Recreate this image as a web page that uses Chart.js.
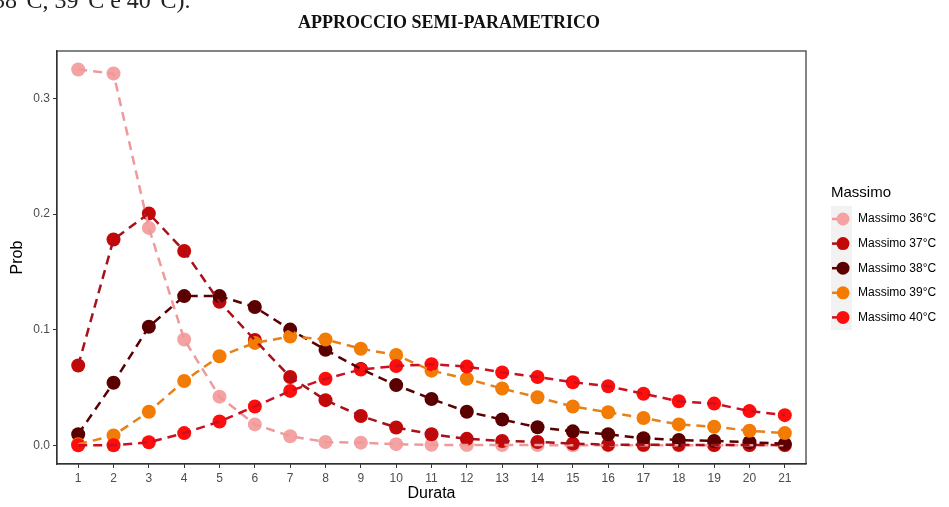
<!DOCTYPE html>
<html lang="it">
<head>
<meta charset="UTF-8">
<title>Approccio semi-parametrico</title>
<script src="https://cdn.jsdelivr.net/npm/chart.js"></script>
<style>
  body { margin: 0; background: #fff; }
  #wrap { position: relative; width: 949px; height: 507px; overflow: hidden; }
  #cut { position: absolute; left: -15px; top: -12px; font: 24px 'Liberation Serif', serif; line-height: 1; color: #222; white-space: nowrap; }
  #title { position: absolute; left: 0; width: 898px; top: 12px; text-align: center; font: bold 18px 'Liberation Serif', serif; color: #111; }
  canvas { position: absolute; left: 0; top: 0; }
</style>
</head>
<body>
<div id="wrap">
  <canvas id="chart" width="949" height="507"></canvas>
  <div id="cut">(38°C, 39°C e 40°C).</div>
  <div id="title">APPROCCIO SEMI-PARAMETRICO</div>
</div>
<script>
const durata = [1, 2, 3, 4, 5, 6, 7, 8, 9, 10, 11, 12, 13, 14, 15, 16, 17, 18, 19, 20, 21];
const yTicks = [0, 0.1, 0.2, 0.3];
const serie = ['Massimo 36°C', 'Massimo 37°C', 'Massimo 38°C', 'Massimo 39°C', 'Massimo 40°C'];

const prob36 = [0.325, 0.3215, 0.188, 0.0915, 0.042, 0.018, 0.0078, 0.0028, 0.0022, 0.0009, 0.0003, 0.0002, 0.0001, 0.0001, 0, 0, 0, 0, 0, 0, 0];
const prob37 = [0.069, 0.178, 0.2005, 0.168, 0.124, 0.091, 0.059, 0.039, 0.0253, 0.0153, 0.0095, 0.0055, 0.0037, 0.0028, 0.0014, 0.0005, 0.0004, 0.0003, 0.0002, 0.0001, 0.0001];
const prob38 = [0.0095, 0.054, 0.1025, 0.129, 0.129, 0.1195, 0.1, 0.0825, 0.066, 0.052, 0.04, 0.029, 0.0222, 0.0155, 0.012, 0.0095, 0.006, 0.0045, 0.0037, 0.0026, 0.0012];
const prob39 = [0.0008, 0.0085, 0.029, 0.0555, 0.077, 0.0885, 0.094, 0.0915, 0.0835, 0.078, 0.0645, 0.0575, 0.049, 0.0415, 0.0335, 0.0285, 0.0235, 0.018, 0.016, 0.0125, 0.0105];
const prob40 = [0, 0, 0.0025, 0.0105, 0.0205, 0.0335, 0.047, 0.0575, 0.0655, 0.0685, 0.07, 0.068, 0.063, 0.059, 0.0545, 0.051, 0.0445, 0.038, 0.036, 0.0295, 0.026];

const pointColors = ['#F4A2A2', '#C40808', '#5A0000', '#F57A00', '#FF0C0C'];
const lineColors = ['#EE9A9A', '#A8101C', '#5A0000', '#E8801A', '#CC1020'];
const allProb = [prob36, prob37, prob38, prob39, prob40];
const font = 'Liberation Sans';

// lines drawn above all points, later series on top
const lineSets = allProb.map((vals, i) => ({
  label: serie[i],
  data: vals.map((v, j) => ({ x: durata[j], y: v })),
  borderColor: lineColors[i],
  borderWidth: 2.5,
  borderDash: [9, 6],
  pointRadius: 0,
  fill: false,
  order: allProb.length - i
}));
const pointSets = allProb.map((vals, i) => ({
  label: serie[i] + ' punti',
  data: vals.map((v, j) => ({ x: durata[j], y: v })),
  showLine: false,
  pointRadius: 7,
  pointBorderWidth: 0,
  pointBackgroundColor: pointColors[i],
  backgroundColor: pointColors[i],
  order: 2 * allProb.length - i
}));

const frameAndLegend = {
  id: 'frameAndLegend',
  afterDraw(chart) {
    const ctx = chart.ctx;
    const a = chart.chartArea;
    ctx.save();
    ctx.strokeStyle = '#333';
    ctx.lineWidth = 1.2;
    ctx.strokeRect(a.left, a.top, a.right - a.left, a.bottom - a.top);

    ctx.fillStyle = '#000';
    ctx.font = '15px "' + font + '"';
    ctx.textBaseline = 'middle';
    ctx.fillText('Massimo', 831, 193);
    ctx.fillStyle = '#F2F2F2';
    ctx.fillRect(831, 206, 21, 124);
    serie.forEach((name, i) => {
      const y = 219 + i * 24.6;
      ctx.strokeStyle = lineColors[i];
      ctx.lineWidth = 2.5;
      ctx.beginPath();
      ctx.moveTo(832, y);
      ctx.lineTo(843, y);
      ctx.stroke();
      ctx.fillStyle = pointColors[i];
      ctx.beginPath();
      ctx.arc(843, y, 6.5, 0, Math.PI * 2);
      ctx.fill();
      ctx.fillStyle = '#000';
      ctx.font = '12px "' + font + '"';
      ctx.fillText(name, 858, y);
    });
    ctx.restore();
  }
};

new Chart(document.getElementById('chart'), {
  type: 'line',
  data: { datasets: [...lineSets, ...pointSets] },
  options: {
    responsive: false,
    animation: false,
    events: [],
    layout: { padding: { left: 0, right: 143, top: 51, bottom: 0 } },
    plugins: { legend: { display: false }, tooltip: { enabled: false } },
    scales: {
      x: {
        type: 'linear',
        min: 0.4,
        max: 21.6,
        afterBuildTicks: ax => { ax.ticks = durata.map(v => ({ value: v })); },
        afterFit: ax => { ax.height = 43; },
        grid: { drawOnChartArea: false, drawTicks: true, tickLength: 4, tickColor: '#333' },
        border: { display: true, color: '#333', width: 1.2 },
        ticks: { color: '#4D4D4D', font: { family: font, size: 12 }, padding: 3, maxRotation: 0, autoSkip: false },
        title: { display: true, text: 'Durata', color: '#000', font: { family: font, size: 16 }, padding: { top: 0, bottom: 4 } }
      },
      y: {
        min: -0.01625,
        max: 0.341,
        afterBuildTicks: ax => { ax.ticks = yTicks.map(v => ({ value: v })); },
        afterFit: ax => { ax.width = 57; },
        grid: { drawOnChartArea: false, drawTicks: true, tickLength: 4, tickColor: '#333' },
        border: { display: true, color: '#333', width: 1.2 },
        ticks: { color: '#4D4D4D', font: { family: font, size: 12 }, padding: 3, callback: v => v.toFixed(1) },
        title: { display: true, text: 'Prob', color: '#000', font: { family: font, size: 16 }, padding: { top: 8, bottom: 0 } }
      }
    }
  },
  plugins: [frameAndLegend]
});
</script>
</body>
</html>
